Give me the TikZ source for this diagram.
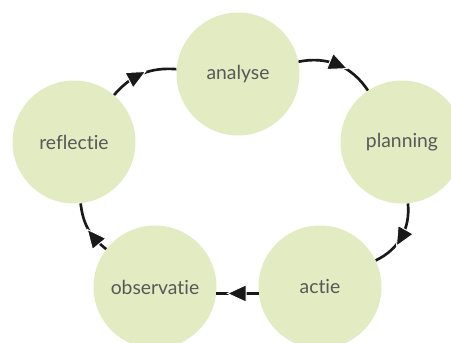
\documentclass[tikz,border=0pt]{standalone}
\usepackage{fontspec}
\setmainfont{Lato}[Ligatures={NoCommon}]
\usetikzlibrary{decorations.markings}
\definecolor{ringfill}{RGB}{226,235,193}
\definecolor{labelgray}{RGB}{88,88,88}
\tikzset{
  phase/.style={circle, fill=ringfill, minimum size=123*0.75pt, inner sep=0pt,
    text=labelgray, font=\fontsize{14.5}{16}\selectfont},
  cycleline/.style={line width=2pt, black!90},
  arrowat/.style={postaction={decorate}, decoration={markings,
    mark=at position #1 with {\fill[black!90, draw=white, line width=0.7pt]
      (7.5pt,0pt) -- (-6.5pt,6.5pt) -- (-6.5pt,-6.5pt) -- cycle;}}}
}
\begin{document}
\begin{tikzpicture}[x=0.75pt, y=-0.75pt]
\useasboundingbox (0,0) rectangle (451,343);
\clip (0,0) rectangle (451,343);
\node[phase] (A) at (238,74) {analyse};
\node[phase] (P) at (402,142) {planning};
\node[phase] (C) at (320,287) {actie};
\node[phase] (O) at (155,287) {observatie};
\node[phase] (R) at (74,142) {reflectie};
\draw[cycleline, arrowat=0.42] (R) to[bend left=27] (A);
\draw[cycleline, arrowat=0.5] (A) to[bend left=34] (P);
\draw[cycleline, arrowat=0.5] (P) to[bend left=35] (C);
\draw[cycleline, arrowat=0.5] (C.186.6) -- (O.-6.6);
\draw[cycleline, arrowat=0.32] (O) to[bend left=23] (R);
\end{tikzpicture}
\end{document}
